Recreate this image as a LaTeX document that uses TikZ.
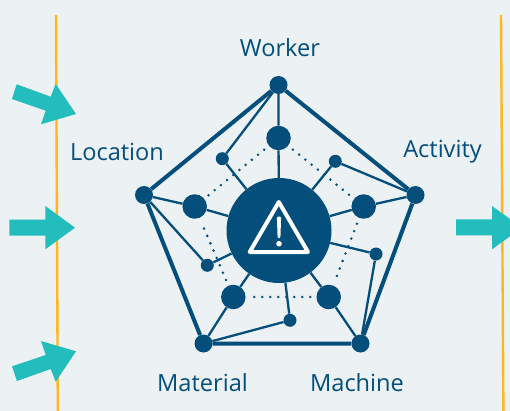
\documentclass[tikz,border=0pt]{standalone}
\usepackage{fontspec}
\setmainfont{Open Sans}
\definecolor{bgc}{HTML}{ECF1F4}
\definecolor{navy}{HTML}{044E7C}
\definecolor{teal}{HTML}{23BDBD}
\definecolor{amber}{HTML}{FFB81C}
\tikzset{
  x=1pt,y=-1pt,
  hub/.style={circle,fill=navy,inner sep=0pt,minimum size=18pt},
  bigdot/.style={circle,fill=navy,inner sep=0pt,minimum size=24.5pt},
  smalldot/.style={circle,fill=navy,inner sep=0pt,minimum size=13pt},
  core/.style={circle,fill=navy,inner sep=0pt,minimum size=105pt},
  rim/.style={draw=navy,line width=4pt},
  spoke/.style={draw=navy,line width=2.3pt},
  dots/.style={draw=navy,line width=2.8pt,line cap=round,dash pattern=on 0pt off 8pt,shorten <=6pt,shorten >=4pt},
  lab/.style={text=navy,font=\fontsize{23.6}{28}\selectfont,inner sep=0pt},
  rail/.style={draw=amber,line width=2.4pt},
  blockarrow/.style={fill=teal}
}
\begin{document}
\begin{tikzpicture}
\useasboundingbox (0,0) rectangle (510,411);
\clip (0,0) rectangle (510,411);
\fill[bgc] (0,0) rectangle (510,411);
% rails
\coordinate (la) at (56,15); \coordinate (lb) at (57.8,411);
\coordinate (ra) at (501,15); \coordinate (rb) at (503.4,411);
\draw[rail] (la) -- (lb);
\draw[rail] (ra) -- (rb);
% block arrows
\fill[blockarrow] (16.7,84.3) -- (50.7,96.7) -- (55.7,84) -- (76,114) -- (41,124.3) -- (45.7,110.7) -- (12,99) -- cycle;
\fill[blockarrow] (9.3,219.7) -- (45.3,219.7) -- (45.3,206) -- (75,227.7) -- (45.3,249.3) -- (45.3,235.7) -- (9.3,235.7) -- cycle;
\fill[blockarrow] (12,366.3) -- (45.7,355) -- (41,341) -- (76,351.3) -- (55.7,381.7) -- (50.7,369) -- (17,381) -- cycle;
\fill[blockarrow] (456,219.3) -- (492,219.3) -- (492,206) -- (522,227.7) -- (492,249.3) -- (492,235.3) -- (456,235.3) -- cycle;
% nodes
\node[core] (c) at (279,230.5) {};
\node[hub] (w) at (278.5,85) {};
\node[hub] (l) at (144,195) {};
\node[hub] (a) at (415.5,195) {};
\node[hub] (mt) at (203.5,343.5) {};
\node[hub] (mc) at (360.5,343.5) {};
\node[bigdot] (bt) at (278.5,138) {};
\node[bigdot] (bl) at (194.7,206.5) {};
\node[bigdot] (br) at (363.7,206.5) {};
\node[bigdot] (bml) at (233.3,297) {};
\node[bigdot] (bmr) at (328.7,297) {};
\node[smalldot] (s1) at (222.3,158.7) {};
\node[smalldot] (s2) at (335.3,161.3) {};
\node[smalldot] (s3) at (207.3,265.3) {};
\node[smalldot] (s4) at (376,254) {};
\node[smalldot] (s5) at (290,320.3) {};
% rim
\draw[rim] (w) -- (a) -- (mc) -- (mt) -- (l) -- (w);
% spokes
\draw[spoke] (w) -- (bt) -- (c);
\draw[spoke] (l) -- (bl) -- (c);
\draw[spoke] (a) -- (br) -- (c);
\draw[spoke] (mt) -- (bml) -- (c);
\draw[spoke] (mc) -- (bmr) -- (c);
\draw[spoke] (w) -- (s1) -- (c);
\draw[spoke] (a) -- (s2) -- (c);
\draw[spoke] (l) -- (s3) -- (c);
\draw[spoke] (mc) -- (s4) -- (c);
\draw[spoke] (mt) -- (s5) -- (c);
% dotted ring
\draw[dots] (bt) -- (bl);
\draw[dots] (bt) -- (br);
\draw[dots] (br) -- (bmr);
\draw[dots] (bmr) -- (bml);
\draw[dots] (bml) -- (bl);
% warning sign
\draw[white,line width=4pt,line join=round] (278.8,202) -- (308,252) -- (249.7,252) -- cycle;
\fill[white,rounded corners=1pt] (276.9,216.7) -- (281.1,216.7) -- (280.4,238) -- (277.6,238) -- cycle;
\fill[white] (279,243.7) circle (2.8);
% labels
\node[lab] (tw) at (280,47.5) {Worker};
\node[lab] (tl) at (117,151.5) {Location};
\node[lab] (ta) at (442.5,151.5) {Activity};
\node[lab] (tm) at (202.5,382.5) {Material};
\node[lab] (tc) at (357,382.5) {Machine};
\end{tikzpicture}
\end{document}
